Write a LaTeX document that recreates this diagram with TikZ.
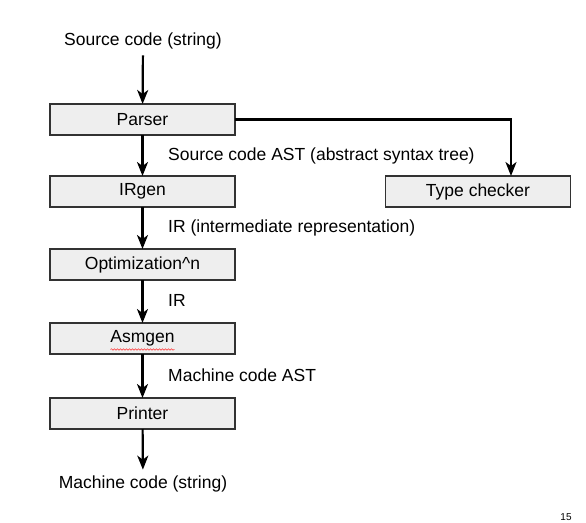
\documentclass[tikz,border=0pt]{standalone}
\usepackage{fontspec}
\setmainfont{Liberation Sans}
\usepackage{xcolor}
\usetikzlibrary{arrows.meta, positioning, decorations.pathmorphing}
\definecolor{boxgray}{RGB}{238, 238, 238}
\definecolor{boxedge}{RGB}{50, 50, 50}

\begin{document}
\begin{tikzpicture}[
  node distance=41pt,
  stage/.style={rectangle, draw=boxedge, line width=1.1pt, fill=boxgray, outer sep=0pt,
               minimum width=185pt, minimum height=31pt, inner sep=0pt, font=\fontsize{17.5}{20}\selectfont},
  plain/.style={inner sep=6pt, font=\fontsize{17.5}{20}\selectfont},
  edgelabel/.style={anchor=west, inner sep=0pt, font=\fontsize{17.5}{20}\selectfont},
  arrow/.style={-{Stealth[length=14pt, width=11pt, inset=4pt]}, line width=2.2pt}
]
\useasboundingbox (0,0) rectangle (586pt,-522pt);

\node[plain] (src) at (143pt,-41pt) {Source code (string)};
\node[stage] (parser) at (142.5pt,-119.5pt) {Parser};
\node[stage, below=41pt of parser] (irgen) {IRgen};
\node[stage, below=42pt of irgen] (opt) {Optimization\^{}n};
\node[stage, below=43pt of opt] (asmgen) {Asmgen};
\node[stage, below=44pt of asmgen] (printer) {Printer};
\node[plain] (out) at (143pt,-484pt) {Machine code (string)};
\node[stage] (check) at (478pt,-191.5pt) {Type checker};

% labels beside the arrows
\node[edgelabel] (l1) at (168pt,-156pt) {Source code AST (abstract syntax tree)};
\node[edgelabel] (l2) at (168pt,-228pt) {IR (intermediate representation)};
\node[edgelabel] (l3) at (168pt,-300pt) {IR};
\node[edgelabel] (l4) at (168pt,-375pt) {Machine code AST};

\draw[arrow] (src) -- (parser);
\draw[arrow] (parser) -- (irgen);
\draw[arrow] (irgen) -- (opt);
\draw[arrow] (opt) -- (asmgen);
\draw[arrow] (asmgen) -- (printer);
\draw[arrow] (printer) -- (out);
\draw[arrow] (parser.east) -| ([xshift=33pt]check.north);

% spell-check squiggle
\draw[red!80, line width=0.5pt, decorate, decoration={snake, amplitude=0.8pt, segment length=3pt}]
  ([xshift=-32pt,yshift=-11pt]asmgen.center) -- ([xshift=32pt,yshift=-11pt]asmgen.center);

\node[font=\fontsize{10}{11}\selectfont, inner sep=0pt] (page) at (566pt,-517pt) {15};
\end{tikzpicture}
\end{document}
